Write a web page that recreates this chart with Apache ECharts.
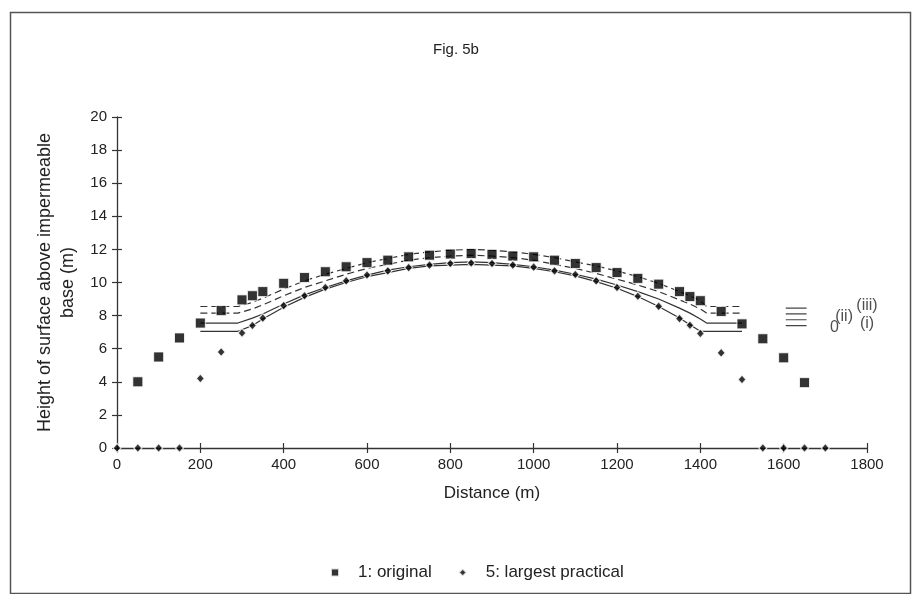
<!DOCTYPE html>
<html>
<head>
<meta charset="utf-8">
<script src="https://cdn.jsdelivr.net/npm/echarts@6/dist/echarts.min.js"></script>
<style>html,body{margin:0;padding:0;background:#fff;}#chart{width:912px;height:594px;}</style>
</head>
<body>
<div id="chart"></div>
<script>
// ---- data ----
const distanceOriginal = [50,100,150,200,250,300,325,350,400,450,500,550,600,650,700,750,800,850,900,950,1000,1050,1100,1150,1200,1250,1300,1350,1375,1400,1450,1500,1550,1600,1650];
const heightOriginal   = [4.0,5.5,6.65,7.55,8.3,8.95,9.2,9.45,9.95,10.3,10.65,10.95,11.2,11.35,11.55,11.65,11.72,11.75,11.7,11.6,11.55,11.35,11.15,10.9,10.6,10.25,9.9,9.45,9.15,8.9,8.25,7.5,6.6,5.45,3.95];
const distanceLargest = [0,50,100,150,200,250,300,325,350,400,450,500,550,600,650,700,750,800,850,900,950,1000,1050,1100,1150,1200,1250,1300,1350,1375,1400,1450,1500,1550,1600,1650,1700];
const heightLargest   = [0,0,0,0,4.2,5.8,6.95,7.4,7.85,8.6,9.2,9.7,10.1,10.45,10.7,10.9,11.05,11.15,11.18,11.15,11.05,10.93,10.7,10.48,10.1,9.7,9.17,8.56,7.82,7.42,6.92,5.75,4.14,0,0,0,0];
const curveDistance = [200,290,325,350,400,450,500,550,600,650,700,750,800,850,900,950,1000,1050,1100,1150,1200,1250,1300,1350,1375,1400,1415,1500];
const curveIII = [8.55,8.55,8.8,9.05,9.6,10.1,10.5,10.85,11.2,11.45,11.7,11.85,11.95,12.0,11.95,11.85,11.7,11.5,11.25,11.0,10.7,10.35,9.95,9.45,9.2,8.9,8.55,8.55];
const curveII  = [8.15,8.15,8.4,8.65,9.2,9.7,10.1,10.5,10.85,11.1,11.35,11.5,11.6,11.65,11.6,11.5,11.35,11.1,10.85,10.55,10.2,9.85,9.45,8.95,8.7,8.4,8.15,8.15];
const curveI   = [7.55,7.55,7.85,8.1,8.7,9.25,9.7,10.1,10.45,10.75,10.95,11.1,11.2,11.25,11.2,11.1,10.95,10.75,10.5,10.2,9.85,9.45,9.0,8.45,8.15,7.8,7.55,7.55];
const curveIV  = [7.05,7.05,7.4,7.8,8.5,9.1,9.6,10.0,10.35,10.6,10.85,11.0,11.05,11.1,11.05,11.0,10.85,10.65,10.4,10.05,9.65,9.15,8.55,7.85,7.45,7.05,7.05,7.05];
const keyDistance = [1605,1655];
const keyLevels = [8.45,8.1,7.75,7.4];
const curveLabels = [
  {text:'(ii)', x:1745, y:7.95},
  {text:'0', x:1722, y:7.3},
  {text:'(iii)', x:1800, y:8.6},
  {text:'(i)', x:1800, y:7.5}
];
const xTicks = {min:0, max:1800, interval:200};
const yTicks = {min:0, max:20, interval:2};
const seriesNames = ['1: original','5: largest practical'];
const titleText = 'Fig. 5b';
const xName = 'Distance (m)';
const yName = 'Height of surface above impermeable\nbase (m)';

// ---- chart ----
const FONT = 'Liberation Sans';
const zip = (xs, ys) => xs.map((x,i)=>[x, ys[i]]);
const chart = echarts.init(document.getElementById('chart'), null, {renderer:'canvas'});

const lineSeries = (data, dashed) => ({
  type:'line', data, symbol:'none', silent:true, z:2,
  lineStyle:{color:'#333', width:1.2, type: dashed ? [7,4] : 'solid'}
});

const keySeries = keyLevels.map(l => ({
  type:'line', data: keyDistance.map(x=>[x,l]), symbol:'none', silent:true,
  lineStyle:{color:'#444', width:1.2}
}));

const baseAxisX = {
  type:'value', min:xTicks.min, max:xTicks.max, interval:xTicks.interval,
  splitLine:{show:false}
};
const baseAxisY = {
  type:'value', min:yTicks.min, max:yTicks.max, interval:yTicks.interval,
  splitLine:{show:false}
};

chart.setOption({
  animation:false,
  backgroundColor:'#fff',
  textStyle:{fontFamily:FONT, color:'#222'},
  title:{text:titleText, left:'center', top:37, textStyle:{fontFamily:FONT, fontSize:15, fontWeight:'normal', color:'#222'}},
  grid:{left:117, right:45, top:117, bottom:146},
  legend:{
    data:[
      {name:seriesNames[0], icon:'rect'},
      {name:seriesNames[1], icon:'diamond'}
    ],
    left:325, top:559, itemWidth:8, itemHeight:8, itemGap:26,
    textStyle:{fontFamily:FONT, fontSize:17, color:'#222', padding:[0,0,0,14]}
  },
  xAxis:[
    Object.assign({}, baseAxisX, {
      name:xName, nameLocation:'middle', nameGap:37,
      nameTextStyle:{fontFamily:FONT, fontSize:17, color:'#222'},
      axisLine:{show:true, onZero:false, lineStyle:{color:'#333', width:1.3}},
      axisTick:{show:true, inside:false, length:5, lineStyle:{color:'#333', width:1.2}},
      axisLabel:{fontFamily:FONT, fontSize:15, color:'#222', margin:9, formatter:(v)=>String(v)}
    }),
    Object.assign({}, baseAxisX, {
      position:'bottom', axisLine:{show:false},
      axisTick:{show:true, inside:true, length:5, lineStyle:{color:'#333', width:1.2}},
      axisLabel:{show:false}
    })
  ],
  yAxis:[
    Object.assign({}, baseAxisY, {
      name:yName, nameLocation:'middle', nameGap:37,
      nameTextStyle:{fontFamily:FONT, fontSize:18, color:'#222', lineHeight:23},
      axisLine:{show:true, onZero:false, lineStyle:{color:'#333', width:1.3}},
      axisTick:{show:true, inside:false, length:5, lineStyle:{color:'#333', width:1.2}},
      axisLabel:{fontFamily:FONT, fontSize:15, color:'#222', margin:10}
    }),
    Object.assign({}, baseAxisY, {
      position:'left', axisLine:{show:false},
      axisTick:{show:true, inside:true, length:5, lineStyle:{color:'#333', width:1.2}},
      axisLabel:{show:false}
    })
  ],
  series:[
    lineSeries(zip(curveDistance, curveIII), true),
    lineSeries(zip(curveDistance, curveII), true),
    lineSeries(zip(curveDistance, curveI), false),
    lineSeries(zip(curveDistance, curveIV), false),
    ...keySeries,
    {
      type:'scatter', silent:true, clip:false, symbolSize:0,
      data: curveLabels.map(l=>({value:[l.x,l.y], label:{formatter:l.text}})),
      label:{show:true, position:'inside', fontFamily:FONT, fontSize:16, color:'#222'}
    },
    {
      name:seriesNames[0], type:'scatter', z:5, symbol:'rect', symbolSize:10,
      data: zip(distanceOriginal, heightOriginal),
      itemStyle:{color:'#000', borderColor:'#fff', borderWidth:1}
    },
    {
      name:seriesNames[1], type:'scatter', z:6, symbol:'diamond', symbolSize:[8,9],
      data: zip(distanceLargest, heightLargest),
      itemStyle:{color:'#000', borderColor:'#fff', borderWidth:1.2}
    }
  ],
  graphic:[
    {type:'rect', left:8, top:10, silent:true, z:-1,
     shape:{width:900, height:581},
     style:{fill:'none', stroke:'#555', lineWidth:1.5}}
  ]
});
</script>
</body>
</html>
